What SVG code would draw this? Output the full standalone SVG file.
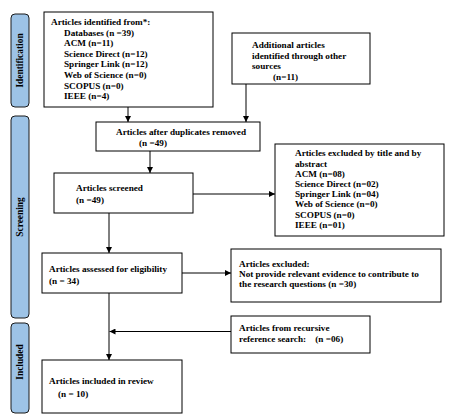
<svg xmlns="http://www.w3.org/2000/svg" width="463" height="420" viewBox="0 0 463 420">
<style>
  .box { fill: #ffffff; stroke: #000000; stroke-width: 1; }
  .tab { fill: #9dc3e6; stroke: #1a1a1a; stroke-width: 1; }
  text { font-family: "Liberation Serif", "Times New Roman", serif; font-weight: bold; font-size: 9.2px; fill: #000000; }
  .tabt { font-size: 9.4px; text-anchor: middle; }
  .con { stroke: #000000; stroke-width: 1; fill: none; }
</style>
<defs>
  <marker id="arr" markerUnits="userSpaceOnUse" markerWidth="6" markerHeight="6" refX="6" refY="3" orient="auto">
    <path d="M0,0 L6,3 L0,6 z" fill="#000000"/>
  </marker>
</defs>
<rect x="0" y="0" width="463" height="420" fill="#ffffff"/>

<g id="tab-identification">
  <rect class="tab" x="11" y="14" width="18" height="93" rx="4"/>
  <text class="tabt" transform="translate(23.4,60.5) rotate(-90)">Identification</text>
</g>
<g id="tab-screening">
  <rect class="tab" x="11" y="116" width="18" height="202" rx="4"/>
  <text class="tabt" transform="translate(23.4,217) rotate(-90)">Screening</text>
</g>
<g id="tab-included">
  <rect class="tab" x="11" y="323" width="18" height="90" rx="4"/>
  <text class="tabt" transform="translate(23.4,362) rotate(-90)">Included</text>
</g>

<g id="connectors">
  <line class="con" x1="128" y1="107" x2="128" y2="122" marker-end="url(#arr)"/>
  <line class="con" x1="246" y1="84" x2="246" y2="122" marker-end="url(#arr)"/>
  <line class="con" x1="150" y1="151" x2="150" y2="173" marker-end="url(#arr)"/>
  <line class="con" x1="193" y1="194" x2="275" y2="194" marker-end="url(#arr)"/>
  <line class="con" x1="109" y1="213" x2="109" y2="253" marker-end="url(#arr)"/>
  <line class="con" x1="182" y1="273" x2="231" y2="273" marker-end="url(#arr)"/>
  <line class="con" x1="109" y1="293" x2="109" y2="360" marker-end="url(#arr)"/>
  <line class="con" x1="231" y1="331.5" x2="109.5" y2="331.5" marker-end="url(#arr)"/>
</g>

<g id="node-identified">
  <rect class="box" x="44" y="12" width="169" height="95"/>
  <text x="51" y="25">Articles identified from*:</text>
  <text x="64" y="35.6">Databases (n =39)</text>
  <text x="64" y="46.2">ACM (n=11)</text>
  <text x="64" y="56.8">Science Direct (n=12)</text>
  <text x="64" y="67.4">Springer Link (n=12)</text>
  <text x="64" y="78">Web of Science (n=0)</text>
  <text x="64" y="88.6">SCOPUS (n=0)</text>
  <text x="64" y="99.2">IEEE (n=4)</text>
</g>

<g id="node-additional">
  <rect class="box" x="232" y="33" width="138" height="51"/>
  <text x="252" y="48">Additional articles</text>
  <text x="252" y="58.7">identified through other</text>
  <text x="252" y="69.4">sources</text>
  <text x="273" y="80">(n=11)</text>
</g>

<g id="node-duplicates">
  <rect class="box" x="96" y="122" width="164" height="29"/>
  <text x="116" y="135">Articles after duplicates removed</text>
  <text x="139" y="146">(n =49)</text>
</g>

<g id="node-screened">
  <rect class="box" x="54" y="173" width="139" height="40"/>
  <text x="76" y="191">Articles screened</text>
  <text x="76" y="203">(n =49)</text>
</g>

<g id="node-excluded-title">
  <rect class="box" x="275" y="144" width="169" height="92"/>
  <text x="295" y="156.3">Articles excluded by title and by</text>
  <text x="295" y="166.5">abstract</text>
  <text x="295" y="176.7">ACM (n=08)</text>
  <text x="295" y="186.9">Science Direct (n=02)</text>
  <text x="295" y="197.1">Springer Link (n=04)</text>
  <text x="295" y="207.3">Web of Science (n=0)</text>
  <text x="295" y="217.5">SCOPUS (n=0)</text>
  <text x="295" y="227.7">IEEE (n=01)</text>
</g>

<g id="node-assessed">
  <rect class="box" x="42" y="253" width="140" height="40"/>
  <text x="49" y="272">Articles assessed for eligibility</text>
  <text x="49" y="283.5">(n = 34)</text>
</g>

<g id="node-excluded">
  <rect class="box" x="231" y="249" width="210" height="53"/>
  <text x="239" y="267">Articles excluded:</text>
  <text x="239" y="277">Not provide relevant evidence to contribute to</text>
  <text x="239" y="287">the research questions (n =30)</text>
</g>

<g id="node-recursive">
  <rect class="box" x="231" y="316" width="139" height="37"/>
  <text x="239" y="331">Articles from recursive</text>
  <text x="239" y="341.5" xml:space="preserve">reference search:    (n =06)</text>
</g>

<g id="node-included">
  <rect class="box" x="42" y="360" width="140" height="53"/>
  <text x="49" y="384">Articles included in review</text>
  <text x="58" y="397">(n = 10)</text>
</g>
</svg>
